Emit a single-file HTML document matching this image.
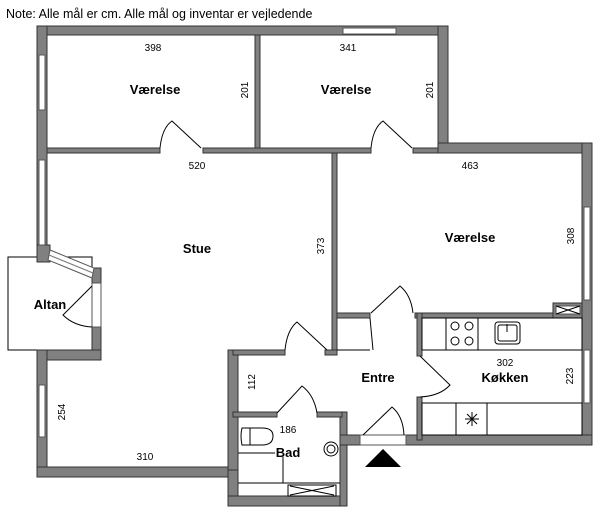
<!DOCTYPE html>
<html><head><meta charset="utf-8"><style>
html,body{margin:0;padding:0;background:#fff;}
svg{display:block;}
text{font-family:"Liberation Sans",sans-serif;fill:#000;}
.w{fill:#808080;stroke:#333;stroke-width:1;}
.l{fill:none;stroke:#000;stroke-width:1;}
.win{fill:#fff;stroke:#555;stroke-width:1;}
.d{font-size:10px;}
.r{font-size:13px;font-weight:bold;}
</style></head><body>
<svg width="600" height="510" viewBox="0 0 600 510" xmlns="http://www.w3.org/2000/svg">
<text x="6" y="18" font-size="12.5">Note: Alle mål er cm. Alle mål og inventar er vejledende</text>

<!-- Altan -->
<rect x="8" y="257" width="84" height="93" fill="#fff" stroke="#000"/>

<!-- outer walls -->
<rect class="w" x="37" y="26" width="411" height="9"/>
<rect class="w" x="438" y="26" width="10" height="127"/>
<rect class="w" x="438" y="143" width="154" height="10"/>
<rect class="w" x="582" y="143" width="10" height="302"/>
<rect class="w" x="406" y="435" width="186" height="10"/>
<rect class="w" x="37" y="26" width="10" height="232"/>
<rect class="w" x="37" y="245" width="13" height="17"/>
<rect class="w" x="92" y="268" width="9" height="92"/>
<rect class="w" x="37" y="350" width="64" height="10"/>
<rect class="w" x="37" y="350" width="10" height="127"/>
<rect class="w" x="37" y="467" width="201" height="10"/>
<rect class="w" x="228" y="467" width="10" height="39"/>
<rect class="w" x="228" y="496" width="119" height="10"/>
<rect class="w" x="340" y="412" width="7" height="94"/>
<rect class="w" x="340" y="435" width="20" height="10"/>

<!-- windows -->
<rect class="win" x="39" y="55" width="6" height="55"/>
<rect class="win" x="39" y="160" width="6" height="85"/>
<rect class="win" x="39" y="385" width="6" height="52"/>
<rect class="win" x="343" y="28" width="53" height="6"/>
<rect class="win" x="584" y="207" width="6" height="93"/>
<rect class="win" x="584" y="350" width="6" height="53"/>
<polygon points="50,250 94,268 92,278 48,260" fill="#fff" stroke="#555"/>
<line x1="49" y1="255" x2="93" y2="273" stroke="#777"/>
<rect class="win" x="92" y="283" width="9" height="44"/>
<rect x="360" y="435" width="46" height="10" fill="#fff" stroke="#555"/>

<!-- interior walls -->
<rect class="w" x="255" y="35" width="5" height="113"/>
<rect class="w" x="47" y="148" width="113" height="5"/>
<rect class="w" x="203" y="148" width="168" height="5"/>
<rect class="w" x="413" y="148" width="25" height="5"/>
<rect class="w" x="332" y="153" width="5" height="202"/>
<rect class="w" x="325" y="350" width="12" height="5"/>
<rect class="w" x="337" y="313" width="33" height="5"/>
<rect class="w" x="415" y="313" width="138" height="5"/>
<rect class="w" x="553" y="303" width="29" height="15"/>
<rect x="556" y="306" width="24" height="8" fill="#fff" stroke="#555"/>
<path class="l" d="M556,306 L580,314 M556,314 L580,306"/>
<rect class="w" x="417" y="313" width="5" height="43"/>
<rect class="w" x="417" y="397" width="5" height="43"/>
<!-- bath walls -->
<rect class="w" x="228" y="350" width="10" height="120"/>
<rect class="w" x="233" y="350" width="52" height="5"/>
<rect class="w" x="233" y="412" width="44" height="5"/>
<rect class="w" x="317" y="412" width="25" height="5"/>

<!-- doors -->
<path class="l" d="M160,148 Q162,128 172,121 L201,148"/>
<path class="l" d="M371,148 Q373,128 383,121 L412,148"/>
<path class="l" d="M285,350 Q287,330 297,322 L327,350"/>
<path class="l" d="M371,313 L400,286 Q411,295 413,313 M370,318 L373,350 M337,350 L370,350"/>
<path class="l" d="M420,356 L450,385 Q440,396 420,397"/>
<path class="l" d="M277,413 L302,386 Q314,395 317,413"/>
<path class="l" d="M363,435 L392,407 Q403,416 404,435"/>
<path class="l" d="M92,286 L63,315 Q74,326 92,327"/>

<!-- kitchen -->
<rect class="l" x="422" y="318" width="160" height="32"/>
<rect class="l" x="446" y="318" width="32" height="32"/>
<circle class="l" cx="455" cy="326" r="4"/><circle class="l" cx="469" cy="326" r="4"/>
<circle class="l" cx="455" cy="341" r="4"/><circle class="l" cx="469" cy="341" r="4"/>
<rect class="l" x="495" y="322" width="25" height="22" rx="3"/>
<rect class="l" x="498" y="325" width="19" height="16" rx="2"/>
<line class="l" x1="507" y1="324" x2="507" y2="332"/>
<rect class="l" x="422" y="403" width="160" height="32"/>
<line class="l" x1="456" y1="403" x2="456" y2="435"/>
<line class="l" x1="487" y1="403" x2="487" y2="435"/>
<path class="l" d="M465,419 L479,419 M472,412 L472,426 M467,414 L477,424 M477,414 L467,424" stroke-width="0.7"/>

<!-- bath fixtures -->
<path class="l" d="M242,428 L262,428 Q273,428 273,436 Q273,445 262,445 L242,445 Q240,436 242,428 Z"/>
<line class="l" x1="250" y1="428" x2="250" y2="445"/>
<circle class="l" cx="331" cy="449" r="7"/><circle class="l" cx="331" cy="449" r="4"/>
<line class="l" x1="238" y1="453" x2="275" y2="453"/>
<line class="l" x1="283" y1="457" x2="283" y2="483"/>
<line class="l" x1="238" y1="483" x2="340" y2="483"/>
<rect class="l" x="288" y="485" width="48" height="11"/>
<path class="l" d="M290,486 L334,495 M290,495 L334,486"/>

<!-- entry triangle -->
<polygon points="365,467 401,467 383,449" fill="#000"/>

<!-- labels -->
<text class="r" x="155" y="94" text-anchor="middle">Værelse</text>
<text class="r" x="346" y="94" text-anchor="middle">Værelse</text>
<text class="r" x="470" y="242" text-anchor="middle">Værelse</text>
<text class="r" x="197" y="253" text-anchor="middle">Stue</text>
<text class="r" x="50" y="309" text-anchor="middle">Altan</text>
<text class="r" x="378" y="382" text-anchor="middle">Entre</text>
<text class="r" x="505" y="382" text-anchor="middle">Køkken</text>
<text class="r" x="288" y="457" text-anchor="middle">Bad</text>
<text class="d" x="153" y="51" text-anchor="middle">398</text>
<text class="d" x="348" y="51" text-anchor="middle">341</text>
<text class="d" x="197" y="169" text-anchor="middle">520</text>
<text class="d" x="470" y="169" text-anchor="middle">463</text>
<text class="d" x="145" y="460" text-anchor="middle">310</text>
<text class="d" x="288" y="433" text-anchor="middle">186</text>
<text class="d" x="505" y="366" text-anchor="middle">302</text>
<text class="d" transform="translate(248,90) rotate(-90)" text-anchor="middle">201</text>
<text class="d" transform="translate(433,90) rotate(-90)" text-anchor="middle">201</text>
<text class="d" transform="translate(324,246) rotate(-90)" text-anchor="middle">373</text>
<text class="d" transform="translate(574,236) rotate(-90)" text-anchor="middle">308</text>
<text class="d" transform="translate(65,412) rotate(-90)" text-anchor="middle">254</text>
<text class="d" transform="translate(255,382) rotate(-90)" text-anchor="middle">112</text>
<text class="d" transform="translate(573,376) rotate(-90)" text-anchor="middle">223</text>
</svg>
</body></html>
